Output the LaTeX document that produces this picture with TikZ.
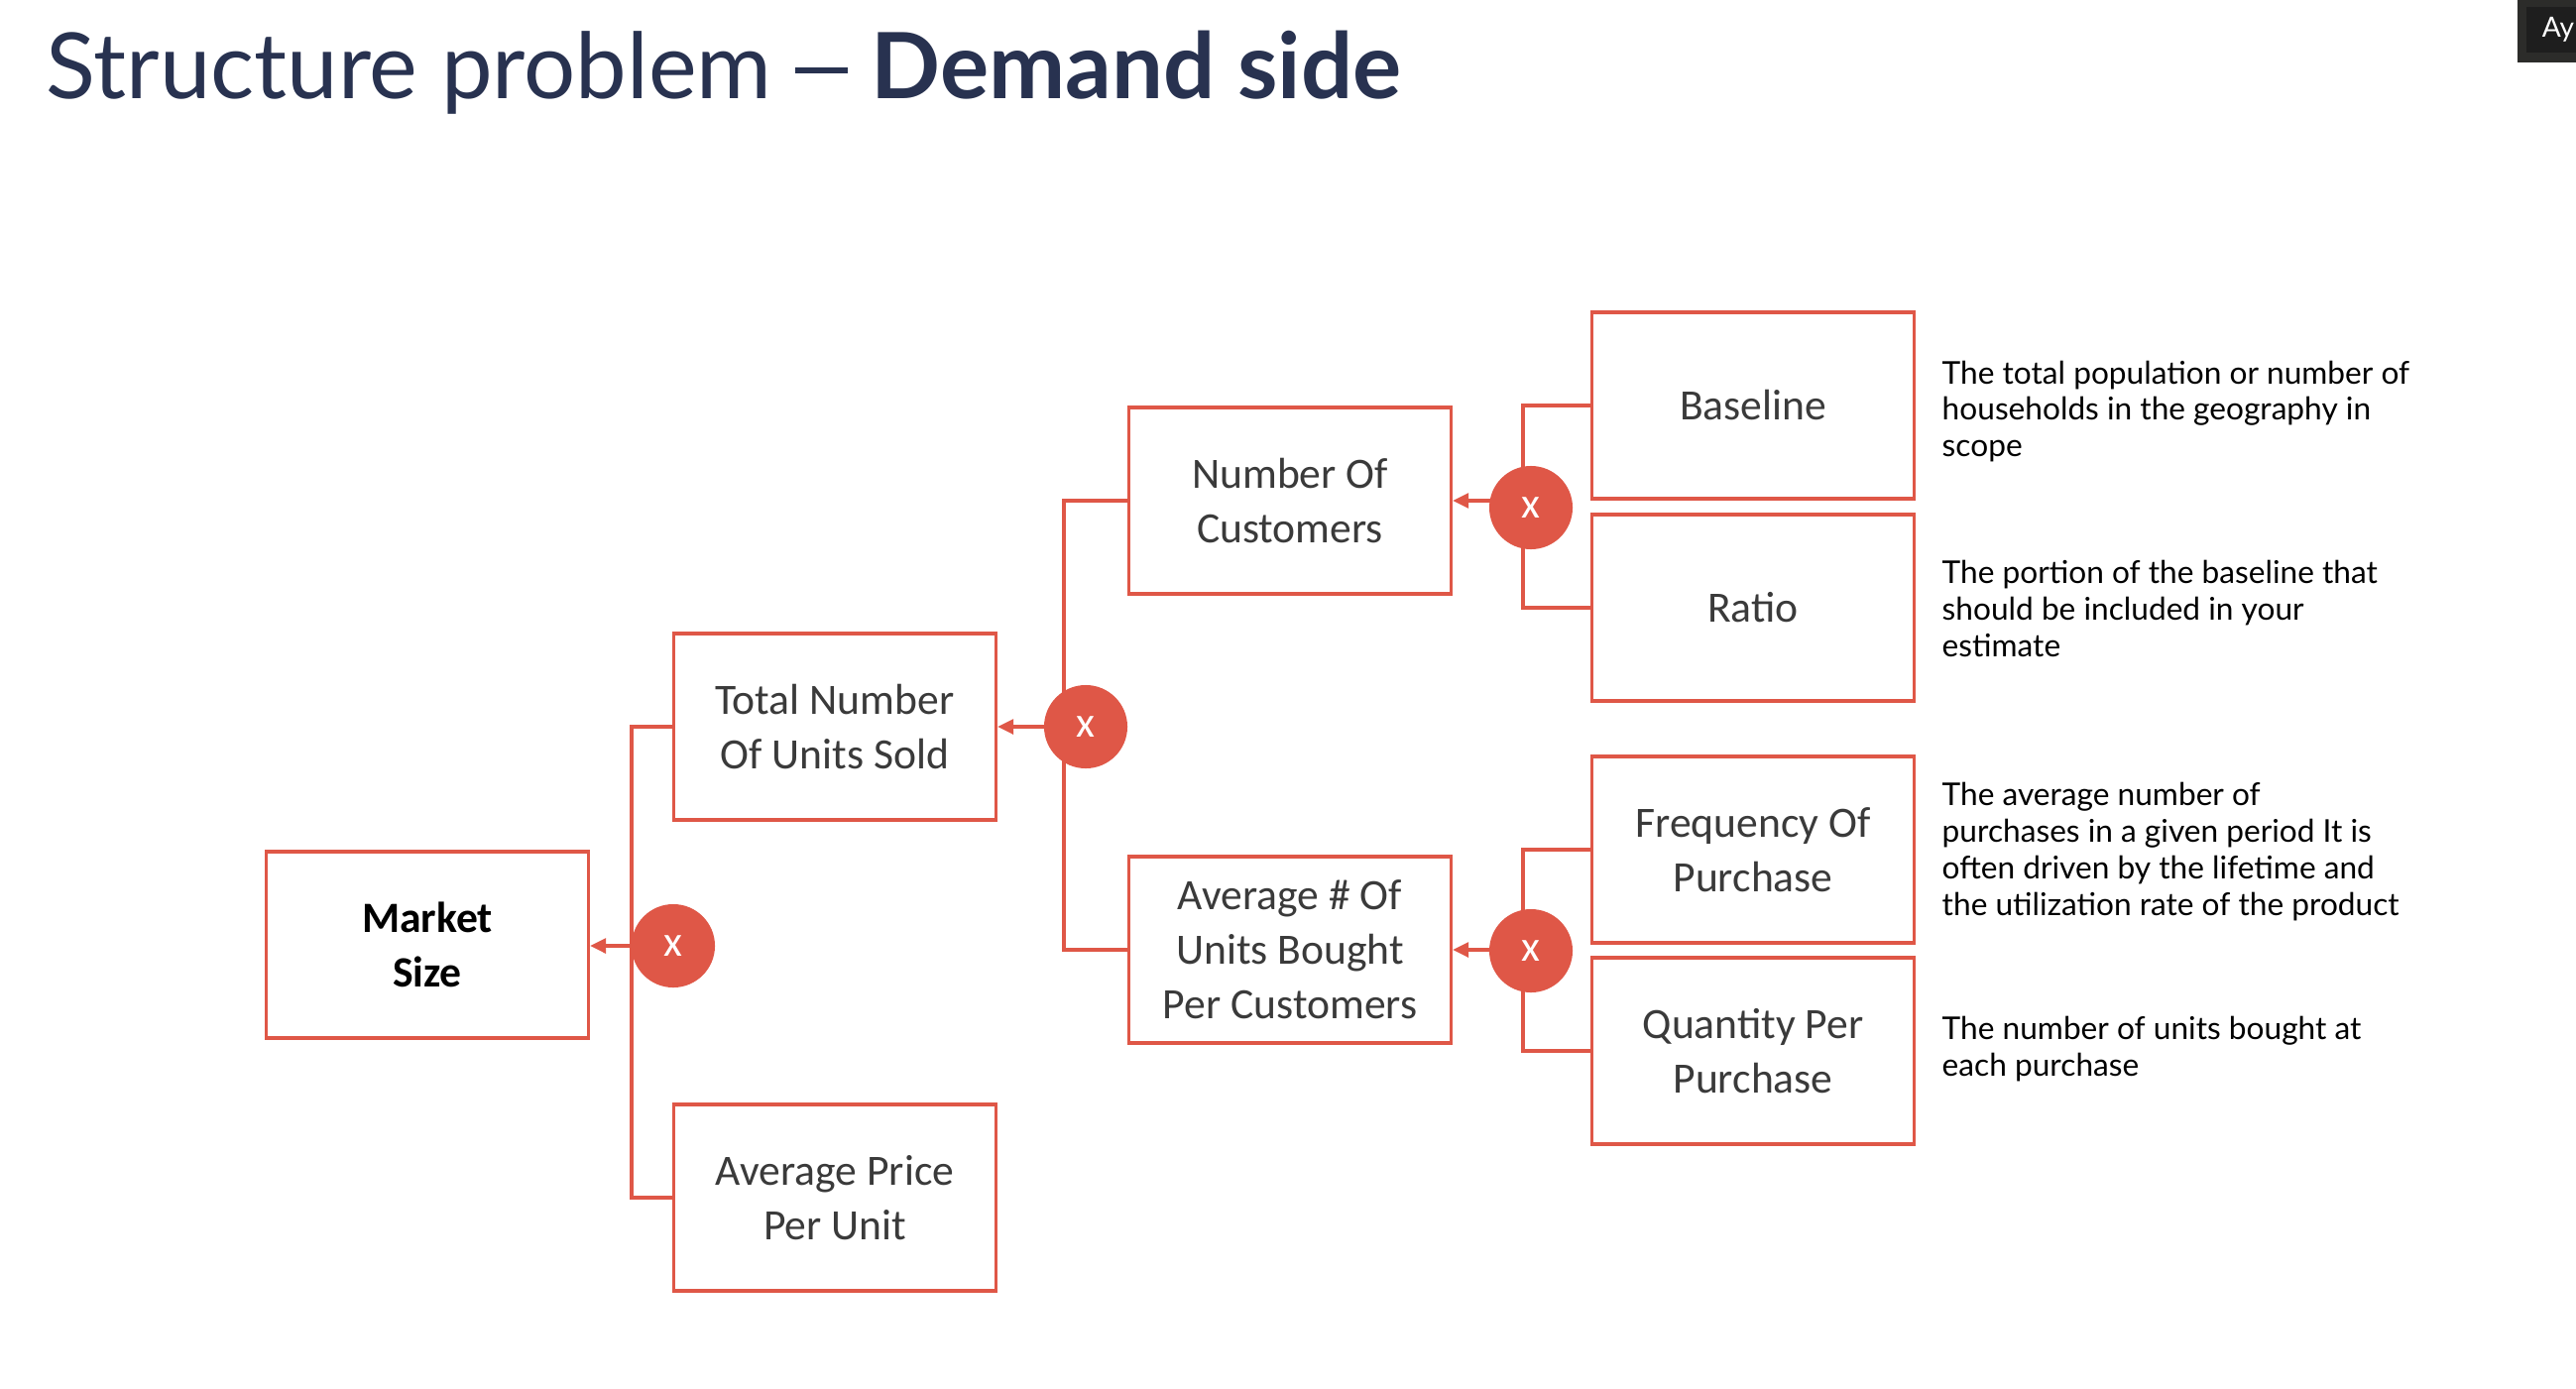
\documentclass[tikz,border=0pt]{standalone}
\usepackage{fontspec}
\setmainfont{Lato}
\newfontfamily\boxfont{Carlito}
\usetikzlibrary{arrows.meta}
\definecolor{accent}{HTML}{DF5747}
\definecolor{navy}{HTML}{283250}
\definecolor{boxtext}{HTML}{3A3A3A}
\definecolor{uibar}{HTML}{2C2C2A}
\definecolor{uibarin}{HTML}{1E1E1E}
\begin{document}
\begin{tikzpicture}[x=0.01cm,y=-0.01cm,
  factor/.style={draw=accent, line width=0.9pt, fill=white,
    minimum width=3.25cm, minimum height=1.88cm, align=center, inner sep=0pt,
    font=\boxfont\fontsize{12.4}{15.6}\selectfont, text=boxtext},
  mult/.style={circle, fill=accent, minimum size=0.84cm, inner sep=0pt,
    text=white, font=\boxfont\fontsize{12.4}{15}\selectfont},
  link/.style={draw=accent, line width=0.9pt},
  feed/.style={link, -{Triangle[length=0.16cm,width=0.15cm]}},
  note/.style={anchor=west, align=left, inner sep=0pt, text=black,
    font=\fontsize{9}{10.5}\selectfont}
]
\fill[white] (0,0) rectangle (2598,1400);
\useasboundingbox (0,0) rectangle (2598,1400);

% heading (the dash is a rule, a little longer than the font's en dash)
\node[anchor=base west, inner sep=0pt, text=navy,
  font=\fontsize{26.2}{32}\selectfont] (title) at (46,100)
  {Structure problem \rule[0.28em]{0.58em}{0.07em} \textbf{Demand side}};

% corner tag
\fill[uibar] (2539,0) rectangle (2598,63);
\fill[uibarin] (2548,7) rectangle (2598,53);
\node[anchor=west, inner sep=0pt, text=white,
  font=\fontsize{8}{9}\selectfont] (tag) at (2563,30) {Ay};

% factor boxes
\node[factor, text=black, font=\boxfont\bfseries\fontsize{12.4}{15.6}\selectfont]
  (market) at (431,953) {Market\\Size};
\node[factor] (total) at (842,733) {Total Number\\Of Units Sold};
\node[factor] (price) at (842,1208) {Average Price\\Per Unit};
\node[factor] (cust)  at (1301,505) {Number Of\\Customers};
\node[factor] (units) at (1301,958) {Average \# Of\\Units Bought\\Per Customers};
\node[factor] (base)  at (1768,409) {Baseline};
\node[factor] (ratio) at (1768,613) {Ratio};
\node[factor] (freq)  at (1768,857) {Frequency Of\\Purchase};
\node[factor] (qty)   at (1768,1060) {Quantity Per\\Purchase};

% junctions
\coordinate (j1) at (637,954);
\coordinate (j2) at (1073,733);
\coordinate (j3) at (1536,505);
\coordinate (j4) at (1536,958);

\draw[link] (total.west) -| (j1) |- (price.west);
\draw[feed] (j1) -- (j1 -| market.east);
\draw[link] (cust.west) -| (j2) |- (units.west);
\draw[feed] (j2) -- (j2 -| total.east);
\draw[link] (base.west) -| (j3) |- (ratio.west);
\draw[feed] (j3) -- (j3 -| cust.east);
\draw[link] (freq.west) -| (j4) |- (qty.west);
\draw[feed] (j4) -- (j4 -| units.east);

% multiplication markers
\node[mult] (m1) at (679,954) {x};
\node[mult] (m2) at (1095,733) {x};
\node[mult] (m3) at (1544,512) {x};
\node[mult] (m4) at (1544,959) {x};

% explanations
\node[note] (nbase) at (1958,415)
  {The total population or number of\\households in the geography in\\scope};
\node[note] (nratio) at (1958,614)
  {The portion of the baseline that\\should be included in your\\estimate};
\node[note] (nfreq) at (1958,859)
  {The average number of\\purchases in a given period It is\\often driven by the lifetime and\\the utilization rate of the product};
\node[note] (nqty) at (1958,1058)
  {The number of units bought at\\each purchase};
\end{tikzpicture}
\end{document}
